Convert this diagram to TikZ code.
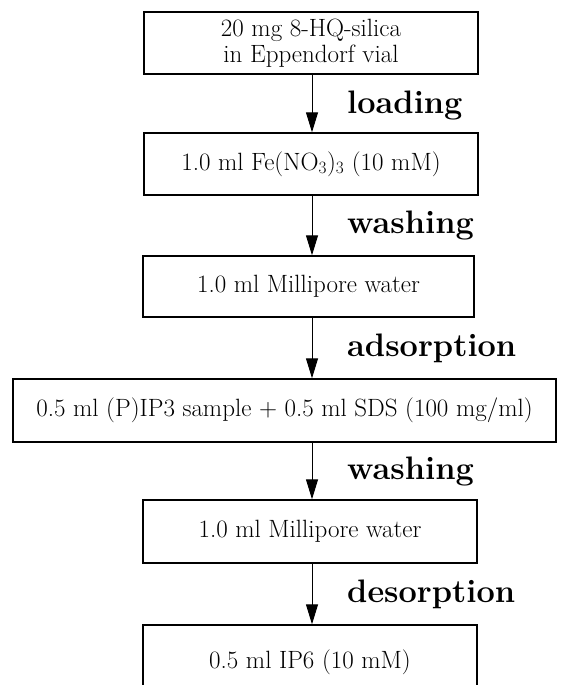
\documentclass[tikz,border=0pt]{standalone}
\usepackage{tikz}
\usetikzlibrary{arrows.meta}

\tikzset{
  stepbox/.style={draw, line width=1.4pt, inner sep=0pt, align=center,
    font=\fontsize{25}{26}\selectfont},
  flow/.style={line width=1pt, -{Triangle[length=20pt,width=12pt]}},
  stage/.style={anchor=base west, inner sep=0pt,
    font=\fontsize{32.5}{36}\selectfont\bfseries}
}

\begin{document}
\begin{tikzpicture}[x=1pt,y=-1pt]
     \useasboundingbox (0,0) rectangle (568,685);
     \clip (0,0) rectangle (568,685);
     \coordinate (ax) at (312,0);

     \node[stepbox, minimum width=334, minimum height=62] (silica) at (311,43) {20 mg 8-HQ-silica\\in Eppendorf vial};
     \node[stepbox, minimum width=334, minimum height=62] (iron) at (311,164) {1.0 ml Fe(NO$_3$)$_3$ (10 mM)};
     \node[stepbox, minimum width=331, minimum height=61] (water1) at (308.5,286.5) {1.0 ml Millipore water};
     \node[stepbox, minimum width=543, minimum height=63] (sample) at (284.5,410.5) {0.5 ml (P)IP3 sample + 0.5 ml SDS (100 mg/ml)};
     \node[stepbox, minimum width=334, minimum height=63] (water2) at (310,531.5) {1.0 ml Millipore water};
     \node[stepbox, minimum width=334, minimum height=74] (eluent) at (310,662) {0.5 ml IP6 (10 mM)};

     \draw[flow] (silica.south -| ax) -- (iron.north -| ax);
     \draw[flow] (iron.south -| ax) -- (water1.north -| ax);
     \draw[flow] (water1.south -| ax) -- (sample.north -| ax);
     \draw[flow] (sample.south -| ax) -- (water2.north -| ax);
     \draw[flow] (water2.south -| ax) -- (eluent.north -| ax);

     \node[stage] (loading) at (347,113) {loading};
     \node[stage] (washA) at (347,233) {washing};
     \node[stage] (adsorb) at (347,356) {adsorption};
     \node[stage] (washB) at (347,479) {washing};
     \node[stage] (desorb) at (347,602) {desorption};
\end{tikzpicture}
\end{document}
